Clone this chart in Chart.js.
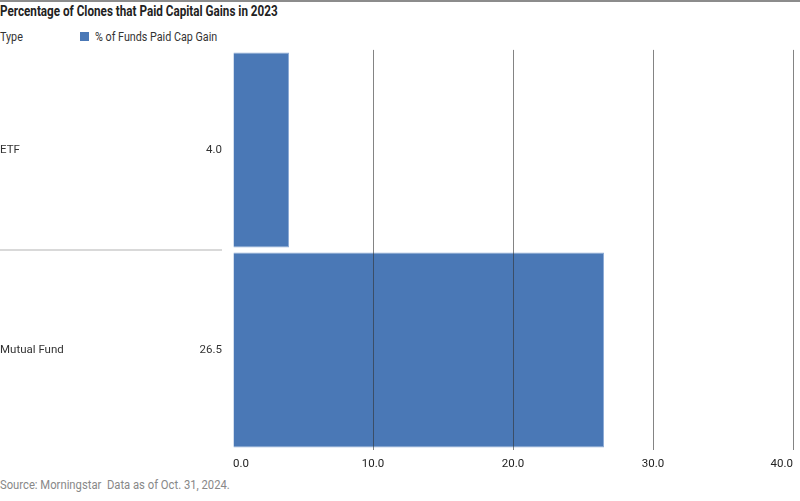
<!DOCTYPE html>
<html>
<head>
<meta charset="utf-8">
<script src="https://cdn.jsdelivr.net/npm/chart.js@4.4.1/dist/chart.umd.min.js"></script>
<style>
  html, body { margin: 0; padding: 0; background: #fff; }
  body { width: 800px; height: 501px; position: relative; overflow: hidden;
         font-family: "Roboto", sans-serif; color: #222; }
  .topline { position: absolute; left: 0; top: 0; width: 800px; height: 2px; background: #8c8c8c; }
  .cond { transform-origin: 0 0; transform: scaleX(0.86); white-space: nowrap; }
  .title { position: absolute; left: 0; top: 3px; font-size: 14px; font-weight: bold; color: #222; transform: scaleX(0.835); }
  .head { position: absolute; left: 0; top: 29px; font-size: 12.5px; color: #333; }
  .legend { position: absolute; left: 80px; top: 29px; font-size: 12.5px; color: #333; }
  .legend .sw { display: inline-block; width: 9px; height: 9px; background: #4a78b6; vertical-align: 0px; }
  .legend .txt { position: absolute; left: 15px; top: 0; }
  .foot { position: absolute; left: 0; top: 477px; font-size: 12.5px; color: #888; transform: scaleX(0.9); }
  #wrap { position: absolute; left: 0; top: 40px; width: 800px; height: 436px; }
</style>
</head>
<body>
<div class="topline"></div>
<div class="title cond">Percentage of Clones that Paid Capital Gains in 2023</div>
<div class="head cond">Type</div>
<div class="legend"><span class="sw"></span><span class="txt cond">% of Funds Paid Cap Gain</span></div>
<div id="wrap"><canvas id="chart"></canvas></div>
<div class="foot cond">Source: Morningstar&nbsp; Data as of Oct. 31, 2024.</div>
<script>
const categories = ['ETF', 'Mutual Fund'];
const paidCapGain = [4.0, 26.5];
const xTicks = [0, 10, 20, 30, 40];
const seriesName = '% of Funds Paid Cap Gain';

const FONT = '"Roboto", sans-serif';

// value column + row separator on the left side
const sideTable = {
    id: 'sideTable',
    afterDraw(chart) {
        const ctx = chart.ctx;
        const y = chart.scales.y;
        ctx.save();
        ctx.font = '11.5px ' + FONT;
        ctx.fillStyle = '#333';
        ctx.textAlign = 'right';
        ctx.textBaseline = 'middle';
        paidCapGain.forEach((v, i) => {
            ctx.fillText(v.toFixed(1), 222, y.getPixelForValue(i));
        });
        ctx.strokeStyle = '#d9d9d9';
        ctx.lineWidth = 2;
        for (let i = 0; i < categories.length - 1; i++) {
            const yy = (y.getPixelForValue(i) + y.getPixelForValue(i + 1)) / 2;
            ctx.beginPath();
            ctx.moveTo(0, yy);
            ctx.lineTo(222, yy);
            ctx.stroke();
        }
        ctx.restore();
    }
};

const ctx = document.getElementById('chart').getContext('2d');
new Chart(ctx, {
    type: 'bar',
    data: {
        labels: categories,
        datasets: [{
            label: seriesName,
            data: paidCapGain,
            backgroundColor: '#4a78b6',
            borderColor: '#8eacd6',
            borderWidth: 1,
            barPercentage: 0.975,
            categoryPercentage: 1
        }]
    },
    options: {
        indexAxis: 'y',
        responsive: true,
        maintainAspectRatio: false,
        animation: false,
        layout: { padding: { top: 2, right: 5, bottom: 0, left: 0 } },
        plugins: { legend: { display: false }, title: { display: false }, tooltip: { enabled: false } },
        scales: {
            x: {
                min: 0,
                max: 40,
                afterBuildTicks: (scale) => { scale.ticks = xTicks.map(v => ({ value: v })); },
                afterFit: (scale) => { scale.height = 26; },
                border: { display: false },
                grid: {
                    z: 1,
                    drawTicks: false,
                    color: (c) => c.tick && c.tick.value === 0 ? 'rgba(0,0,0,0)' : 'rgba(50,50,50,0.6)',
                    lineWidth: 1
                },
                ticks: {
                    align: 'inner',
                    padding: 7,
                    color: '#222',
                    font: { family: FONT, size: 11.5 },
                    callback: (v) => Number(v).toFixed(1)
                }
            },
            y: {
                afterFit: (scale) => { scale.width = 233; },
                border: { display: false },
                grid: { display: false },
                ticks: {
                    crossAlign: 'far',
                    color: '#333',
                    font: { family: FONT, size: 11.5 }
                }
            }
        }
    },
    plugins: [sideTable]
});
</script>
</body>
</html>
